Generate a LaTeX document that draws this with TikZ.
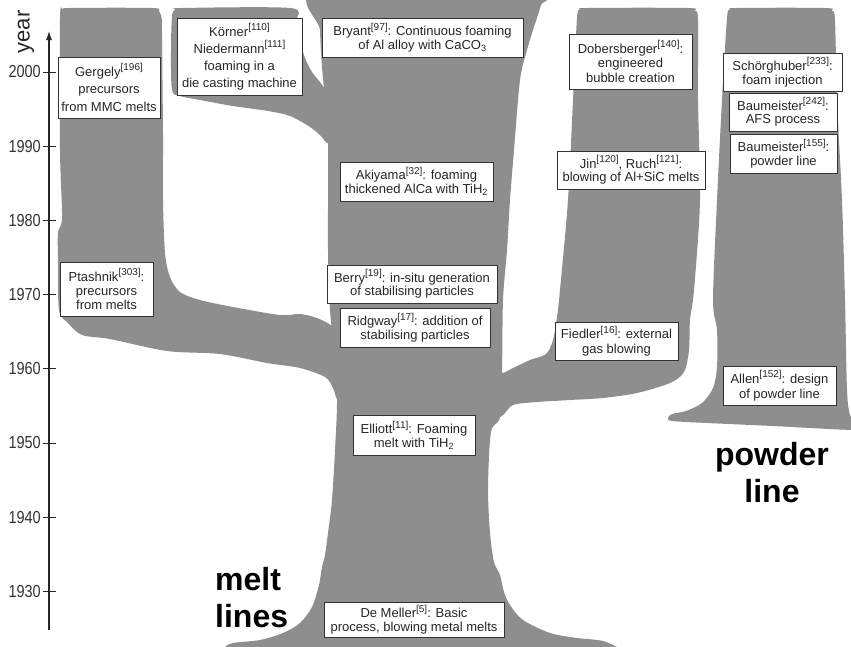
\documentclass[tikz,border=0pt]{standalone}
\usepackage{fontspec}
\setmainfont{Liberation Sans}
\usetikzlibrary{arrows.meta}
\definecolor{gr}{RGB}{142,142,142}
\newcommand\rf[1]{\raisebox{0.42em}{\fontsize{10}{10}\selectfont[#1]}}
\newcommand\tall[1]{\scalebox{1}[1.2]{#1}}
\begin{document}
\begin{tikzpicture}[x=1pt,y=-1pt,
  ev/.style={draw=black!80,fill=white,line width=0.9pt,inner sep=0pt,align=center,text=black!85,font=\fontsize{13}{13.5}\selectfont},
  lsk/.style={font=\fontsize{13}{#1}\selectfont},
  yrlab/.style={anchor=east,font=\fontsize{14.5}{15}\selectfont,text=black!80,inner sep=0pt},
  big/.style={font=\fontsize{32}{37}\bfseries\selectfont,inner sep=0pt,text=black}]
\useasboundingbox (0,0) rectangle (851,646);

% left column (Gergely / Ptashnik) with branch into trunk
\fill[gr] plot[smooth cycle,tension=0.5] coordinates {
 (60,18) (63,10) (70,8) (152,8) (159,11) (162,20) (162,33) (163,133) (163,200) (165,253) (170,277)
 (180,292) (200,300) (233,307) (280,315) (300,314) (317,318) (332,326) (345,340)
 (348,390) (338,400) (333,388) (325,377) (300,368) (267,363) (220,354) (167,351)
 (110,339) (82,335) (68,323) (59,310) (58,260) (58,233) (62,217) (60,150)};
% Koerner branch
\fill[gr] plot[smooth cycle,tension=0.5] coordinates {
 (172,16) (175,10) (182,8) (290,8) (297,20) (300,40) (305,58) (312,72) (320,82) (328,92)
 (340,100) (340,140) (327,143) (322,137) (310,127) (290,116) (268,111) (233,106)
 (200,100) (180,96) (172,90) (171,50)};
% main trunk
\fill[gr] plot[smooth cycle,tension=0.5] coordinates {
 (320,-10) (544,-10) (541,5) (533,30) (527,50) (520,80) (514,150) (510,200) (507,250)
 (503,300) (502,373) (500,417) (491,432) (488,487) (490,533) (494,562) (500,575)
 (504,592) (510,605) (523,620) (550,633) (577,638) (603,641) (620,650) (610,660)
 (230,660) (225,648) (233,643) (260,640) (283,633) (300,623) (312,607) (319,585)
 (322,567) (325,555) (328,533) (332,500) (335,450) (337,400) (334,350) (330,310)
 (328,250) (328,143) (325,100) (322,67) (320,30)};
% Dobersberger column with Fiedler branch
\fill[gr] plot[smooth cycle,tension=0.5] coordinates {
 (577,18) (580,10) (587,8) (688,8) (695,11) (698,20) (698,100) (700,200) (694,290) (690,320) (689,350)
 (684,372) (670,383) (637,393) (603,398) (570,400) (537,402) (513,405) (503,415)
 (490,420) (490,375) (503,373) (513,368) (530,360) (546,354) (553,340) (557,317)
 (560,290) (568,200) (573,100)};
% powder column
\fill[gr] plot[smooth cycle,tension=0.5] coordinates {
 (727,18) (730,10) (737,8) (825,8) (832,11) (835,20) (837,100) (842,200) (845,300) (847,390) (850,415)
 (856,425) (856,430) (773,426) (707,423) (672,421) (668,418) (672,414) (686,411)
 (702,403) (713,388) (717,367) (717,330) (713,300) (717,200) (722,100)};

% axis
\coordinate (axb) at (49,630);
\coordinate (axt) at (49,31);
\draw[line width=1.1pt,black!85,-{Latex[length=9pt,width=6pt]}] (axb) -- (axt);
\foreach \yr in {1930,1940,...,2000}{
  \pgfmathsetmacro\yy{72+(2000-\yr)*7.42}
  \draw[line width=1pt,black!85] (43,\yy) -- (56,\yy);
  \node[yrlab] (t\yr) at (41,\yy) {\tall{\yr}};
}
\node[rotate=90,font=\fontsize{22}{22}\selectfont,inner sep=0pt,text=black!85] (ylab) at (26,32) {year};

% events
\node[ev,minimum width=102,minimum height=61,lsk=17.5] (gergely) at (109,87.5) {Gergely\rf{196}\\precursors\\from MMC melts};
\node[ev,minimum width=93,minimum height=54,lsk=14] (ptashnik) at (106.5,289) {Ptashnik\rf{303}:\\precursors\\from melts};
\node[ev,minimum width=125,minimum height=77,lsk=17] (korner) at (239.5,56.5) {Körner\rf{110}\\Niedermann\rf{111}\\foaming in a\\die casting machine};
\node[ev,minimum width=201,minimum height=39] (bryant) at (422.5,37.5) {Bryant\rf{97}: Continuous foaming\\of Al alloy with CaCO\textsubscript{3}};
\node[ev,minimum width=153,minimum height=39] (akiyama) at (416.5,181.5) {Akiyama\rf{32}: foaming\\thickened AlCa with TiH\textsubscript{2}};
\node[ev,minimum width=170,minimum height=38] (berry) at (412,284) {Berry\rf{19}: in-situ generation\\of stabilising particles};
\node[ev,minimum width=150,minimum height=39] (ridgway) at (415,327.5) {Ridgway\rf{17}: addition of\\stabilising particles};
\node[ev,minimum width=122,minimum height=40] (elliott) at (414,435) {Elliott\rf{11}: Foaming\\melt with TiH\textsubscript{2}};
\node[ev,minimum width=180,minimum height=35] (demeller) at (414,619.5) {De Meller\rf{5}: Basic\\process, blowing metal melts};
\node[ev,minimum width=123,minimum height=55,lsk=14.5] (dobers) at (630.5,61.5) {Dobersberger\rf{140}:\\engineered\\bubble creation};
\node[ev,minimum width=148,minimum height=38] (jin) at (631,170) {Jin\rf{120}, Ruch\rf{121}:\\blowing of Al+SiC melts};
\node[ev,minimum width=123,minimum height=38,lsk=15] (fiedler) at (616.5,341) {Fiedler\rf{16}: external\\gas blowing};
\node[ev,minimum width=119,minimum height=38,lsk=14] (schorg) at (782.5,72) {Schörghuber\rf{233}:\\foam injection};
\node[ev,minimum width=108,minimum height=38] (baumA) at (783,112) {Baumeister\rf{242}:\\AFS process};
\node[ev,minimum width=107,minimum height=39] (baumB) at (783.5,153.5) {Baumeister\rf{155}:\\powder line};
\node[ev,minimum width=113,minimum height=39,lsk=15] (allen) at (779.5,385.5) {Allen\rf{152}: design\\of powder line};

% labels
\node[big,anchor=north west,align=left] (melt) at (215,567) {melt\\lines};
\node[big,anchor=north,align=center] (powder) at (772,442) {powder\\line};
\end{tikzpicture}
\end{document}
